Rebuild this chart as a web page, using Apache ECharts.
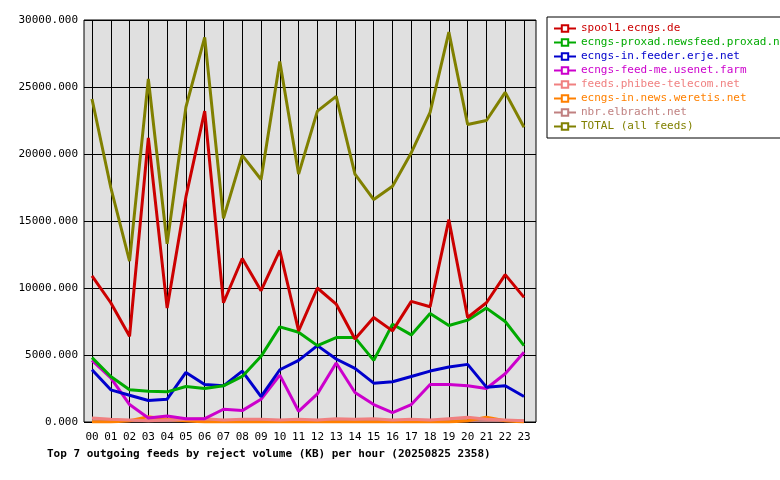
<!DOCTYPE html><html><head><meta charset="utf-8"><script src="https://cdn.jsdelivr.net/npm/echarts@6/dist/echarts.min.js"></script></head><body style="margin:0;background:#fff"><div id="c" style="width:780px;height:480px"></div><script>
const hours=['00','01','02','03','04','05','06','07','08','09','10','11','12','13','14','15','16','17','18','19','20','21','22','23'];
const names=['spool1.ecngs.de','ecngs-proxad.newsfeed.proxad.net','ecngs-in.feeder.erje.net','ecngs-feed-me.usenet.farm','feeds.phibee-telecom.net','ecngs-in.news.weretis.net','nbr.elbracht.net','TOTAL (all feeds)'];
const colors=['#cc0000','#00aa00','#0000cc','#cc00cc','#f08080','#ff8000','#c08080','#808000'];
const spool1=[10900,8900,6400,21200,8500,16800,23200,8900,12200,9800,12800,6800,10000,8800,6200,7800,6800,9000,8600,15100,7800,8900,11000,9300];
const proxad=[4800,3400,2400,2300,2250,2650,2500,2700,3400,4900,7100,6700,5700,6300,6300,4600,7300,6500,8100,7200,7600,8500,7500,5700];
const erje=[3900,2400,2000,1600,1700,3700,2800,2700,3800,1900,3900,4600,5700,4700,4000,2900,3000,3400,3800,4100,4300,2600,2700,1900];
const farm=[4600,3300,1300,300,450,250,250,950,850,1700,3500,800,2100,4400,2200,1300,700,1300,2800,2800,2700,2500,3600,5200];
const phibee=[300,200,150,100,150,200,250,150,200,200,150,200,150,250,200,250,150,200,150,250,350,200,150,100];
const weretis=[0,0,100,400,200,100,0,0,0,0,0,0,0,0,0,0,0,0,0,0,100,350,100,0];
const elbracht=[100,100,100,100,100,100,100,100,100,100,100,100,100,100,100,100,100,100,100,100,100,100,100,100];
const total=[24100,17500,12000,25600,13300,23500,28700,15200,19900,18100,26900,18500,23200,24300,18500,16600,17600,20100,23100,29100,22200,22500,24600,22000];
const all=[spool1,proxad,erje,farm,phibee,weretis,elbracht,total];
const F='DejaVu Sans Mono';
const order=[6,5,4,3,2,1,0,7];
const series=all.map((d,i)=>({name:names[i],type:'line',data:d,xAxisIndex:1,yAxisIndex:1,symbol:'emptyRect',symbolSize:4,showSymbol:false,lineStyle:{width:3,color:colors[i]},itemStyle:{color:colors[i]},z:order.indexOf(i)+2}));
const ch=echarts.init(document.getElementById('c'));
ch.setOption({animation:false,textStyle:{fontFamily:F},
grid:[{left:84,right:244,top:20,bottom:58,show:true,backgroundColor:'#e0e0e0',borderColor:'#000',borderWidth:1},
{left:92,right:256,top:20,bottom:58}],
xAxis:[{gridIndex:0,type:'value',min:0,max:1,show:false},
{gridIndex:1,type:'category',data:hours,boundaryGap:false,axisLine:{show:false},axisTick:{show:false},
axisLabel:{color:'#000',fontFamily:F,fontSize:11,margin:10},splitLine:{show:true,lineStyle:{color:'#000',width:1}}}],
yAxis:[{gridIndex:0,type:'value',min:0,max:30000,interval:5000,axisLine:{show:false},axisTick:{show:false},
axisLabel:{color:'#000',fontFamily:F,fontSize:11,margin:6,formatter:v=>v.toFixed(3)},splitLine:{lineStyle:{color:'#000',width:1}}},
{gridIndex:1,type:'value',min:0,max:30000,show:false}],
legend:{orient:'vertical',left:547,top:17,width:224,padding:[6,6,6,6],itemGap:3,itemWidth:22,itemHeight:8,
borderColor:'#000',borderWidth:1,backgroundColor:'#fff',data:names,
textStyle:{fontFamily:F,fontSize:11,rich:{}},formatter:n=>n,
selectedMode:false},
title:{text:'Top 7 outgoing feeds by reject volume (KB) per hour (20250825 2358)',left:42,top:444,textStyle:{fontFamily:F,fontSize:11,fontWeight:'bold',color:'#000'}},
series:series});
const opt=ch.getOption();
ch.setOption({legend:{data:names.map((n,i)=>({name:n,textStyle:{color:colors[i]}}))}});
</script></body></html>
